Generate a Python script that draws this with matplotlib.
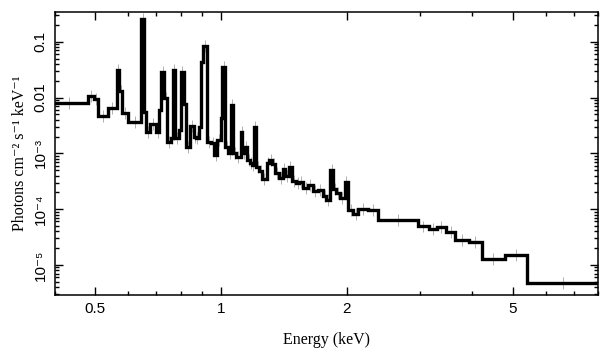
import numpy as np
import matplotlib
matplotlib.use('Agg')
from matplotlib import pyplot as plt
from matplotlib.ticker import FixedLocator, FuncFormatter, LogLocator, NullFormatter

# bin edges (keV) and model flux (photons cm-2 s-1 keV-1)
edges = [0.39, 0.4808, 0.4962, 0.5082, 0.5353, 0.5625, 0.5710, 0.5805, 0.6002, 0.6439,
         0.6547, 0.6621, 0.6769, 0.6984, 0.7117, 0.7180, 0.7310, 0.7424, 0.7590, 0.7662,
         0.7775, 0.7920, 0.8021, 0.8143, 0.8259, 0.8453, 0.8608, 0.8719, 0.8850, 0.8934,
         0.9060, 0.9253, 0.9445, 0.9645, 0.9797, 0.9983, 1.0072, 1.0224, 1.0413, 1.0553,
         1.0706, 1.0849, 1.1155, 1.1255, 1.1425, 1.1570, 1.1726, 1.1857, 1.2010, 1.2164,
         1.2347, 1.2554, 1.2857, 1.3052, 1.3249, 1.3492, 1.3796, 1.4050, 1.4262, 1.4527,
         1.4804, 1.5136, 1.5417, 1.5762, 1.6143, 1.6596, 1.7061, 1.7542, 1.7877, 1.8276,
         1.8543, 1.8889, 1.9237, 1.9779, 2.0150, 2.0718, 2.1301, 2.2518, 2.3803, 2.9717,
         3.1412, 3.2908, 3.4553, 3.6418, 3.9218, 4.2087, 4.7809, 5.3926, 8.1]
flux = [7.87e-3, 1.064e-2, 9.51e-3, 4.66e-3, 6.56e-3, 3.11e-2, 1.324e-2, 5.21e-3, 3.60e-3,
        0.2553, 5.57e-3, 2.44e-3, 3.31e-3, 2.44e-3, 5.97e-3, 2.86e-2, 9.80e-3, 1.61e-3,
        1.88e-3, 3.11e-2, 1.88e-3, 2.62e-3, 2.90e-2, 7.66e-3, 1.31e-3, 3.15e-3, 1.96e-3,
        1.88e-3, 2.96e-3, 4.33e-2, 8.37e-2, 1.60e-3, 1.51e-3, 9.33e-4, 1.73e-3, 4.30e-3,
        3.56e-2, 1.31e-3, 1.00e-3, 7.35e-3, 1.01e-3, 8.69e-4, 2.44e-3, 1.01e-3, 1.31e-3,
        7.59e-4, 6.62e-4, 6.17e-4, 3.00e-3, 5.75e-4, 4.82e-4, 3.46e-4, 6.70e-4, 7.59e-4,
        6.43e-4, 4.43e-4, 3.61e-4, 5.23e-4, 3.92e-4, 5.68e-4, 3.19e-4, 2.94e-4, 3.06e-4,
        2.39e-4, 2.70e-4, 2.11e-4, 2.20e-4, 1.72e-4, 1.46e-4, 5.02e-4, 2.29e-4, 1.94e-4,
        1.58e-4, 3.10e-4, 9.64e-5, 8.17e-5, 9.91e-5, 9.64e-5, 6.38e-5, 4.88e-5, 4.40e-5,
        4.72e-5, 3.89e-5, 2.79e-5, 2.54e-5, 1.26e-5, 1.53e-5, 4.68e-6]
err_factor = 1.28  # size of the grey data error bars

x_major = [0.5, 1, 2, 5]
x_minor = [0.4, 0.6, 0.7, 0.8, 0.9, 3, 4, 6, 7, 8]
y_labels = {0.1: '0.1', 0.01: '0.01', 1e-3: '10\u207b\u00b3', 1e-4: '10\u207b\u2074', 1e-5: '10\u207b\u2075'}

sans = ['Liberation Sans', 'DejaVu Sans']
serif = ['Liberation Serif', 'DejaVu Serif']

edges = np.array(edges)
flux = np.array(flux)
centers = np.sqrt(edges[:-1]*edges[1:])

fig = plt.figure(figsize=(6.09, 3.57), dpi=100)
ax = fig.add_axes([0.090, 0.174, 0.892, 0.792])

# grey data points with errors
ax.errorbar(centers, flux, yerr=[flux-flux/err_factor, flux*err_factor-flux],
            fmt='none', ecolor='#b0b0b0', elinewidth=0.7, capsize=0, zorder=1)
# model step
ax.stairs(flux, edges, color='k', linewidth=2.4, baseline=None, zorder=2)

ax.set_xscale('log')
ax.set_yscale('log')
ax.set_xlim(0.4, 8.0)
ax.set_ylim(2.9e-6, 0.34)

ax.xaxis.set_major_locator(FixedLocator(x_major))
ax.xaxis.set_minor_locator(FixedLocator(x_minor))
ax.xaxis.set_major_formatter(FuncFormatter(lambda v, p: '%g' % v))
ax.xaxis.set_minor_formatter(NullFormatter())
ax.yaxis.set_major_locator(FixedLocator(list(y_labels.keys())))
ax.yaxis.set_minor_locator(LogLocator(base=10, subs=np.arange(2, 10), numticks=20))
ax.yaxis.set_major_formatter(FuncFormatter(lambda v, p: y_labels.get(round(v, 8), '')))
ax.yaxis.set_minor_formatter(NullFormatter())

ax.tick_params(which='both', direction='in', top=True, right=True, width=1.0)
ax.tick_params(which='major', length=5.5, labelsize=11, pad=5)
ax.tick_params(which='minor', length=3)
for lab in ax.get_xticklabels():
    lab.set_family(sans)
for lab in ax.get_yticklabels():
    lab.set_family(sans)
    lab.set_rotation(90)
    lab.set_va('center')
for s in ax.spines.values():
    s.set_linewidth(1.1)

ax.set_xlabel('Energy (keV)', family=serif, fontsize=11.5, labelpad=12)
ax.set_ylabel('Photons cm\u207b\u00b2 s\u207b\u00b9 keV\u207b\u00b9', family=serif, fontsize=11.5, labelpad=4)

fig.savefig('out.png', dpi=100)
